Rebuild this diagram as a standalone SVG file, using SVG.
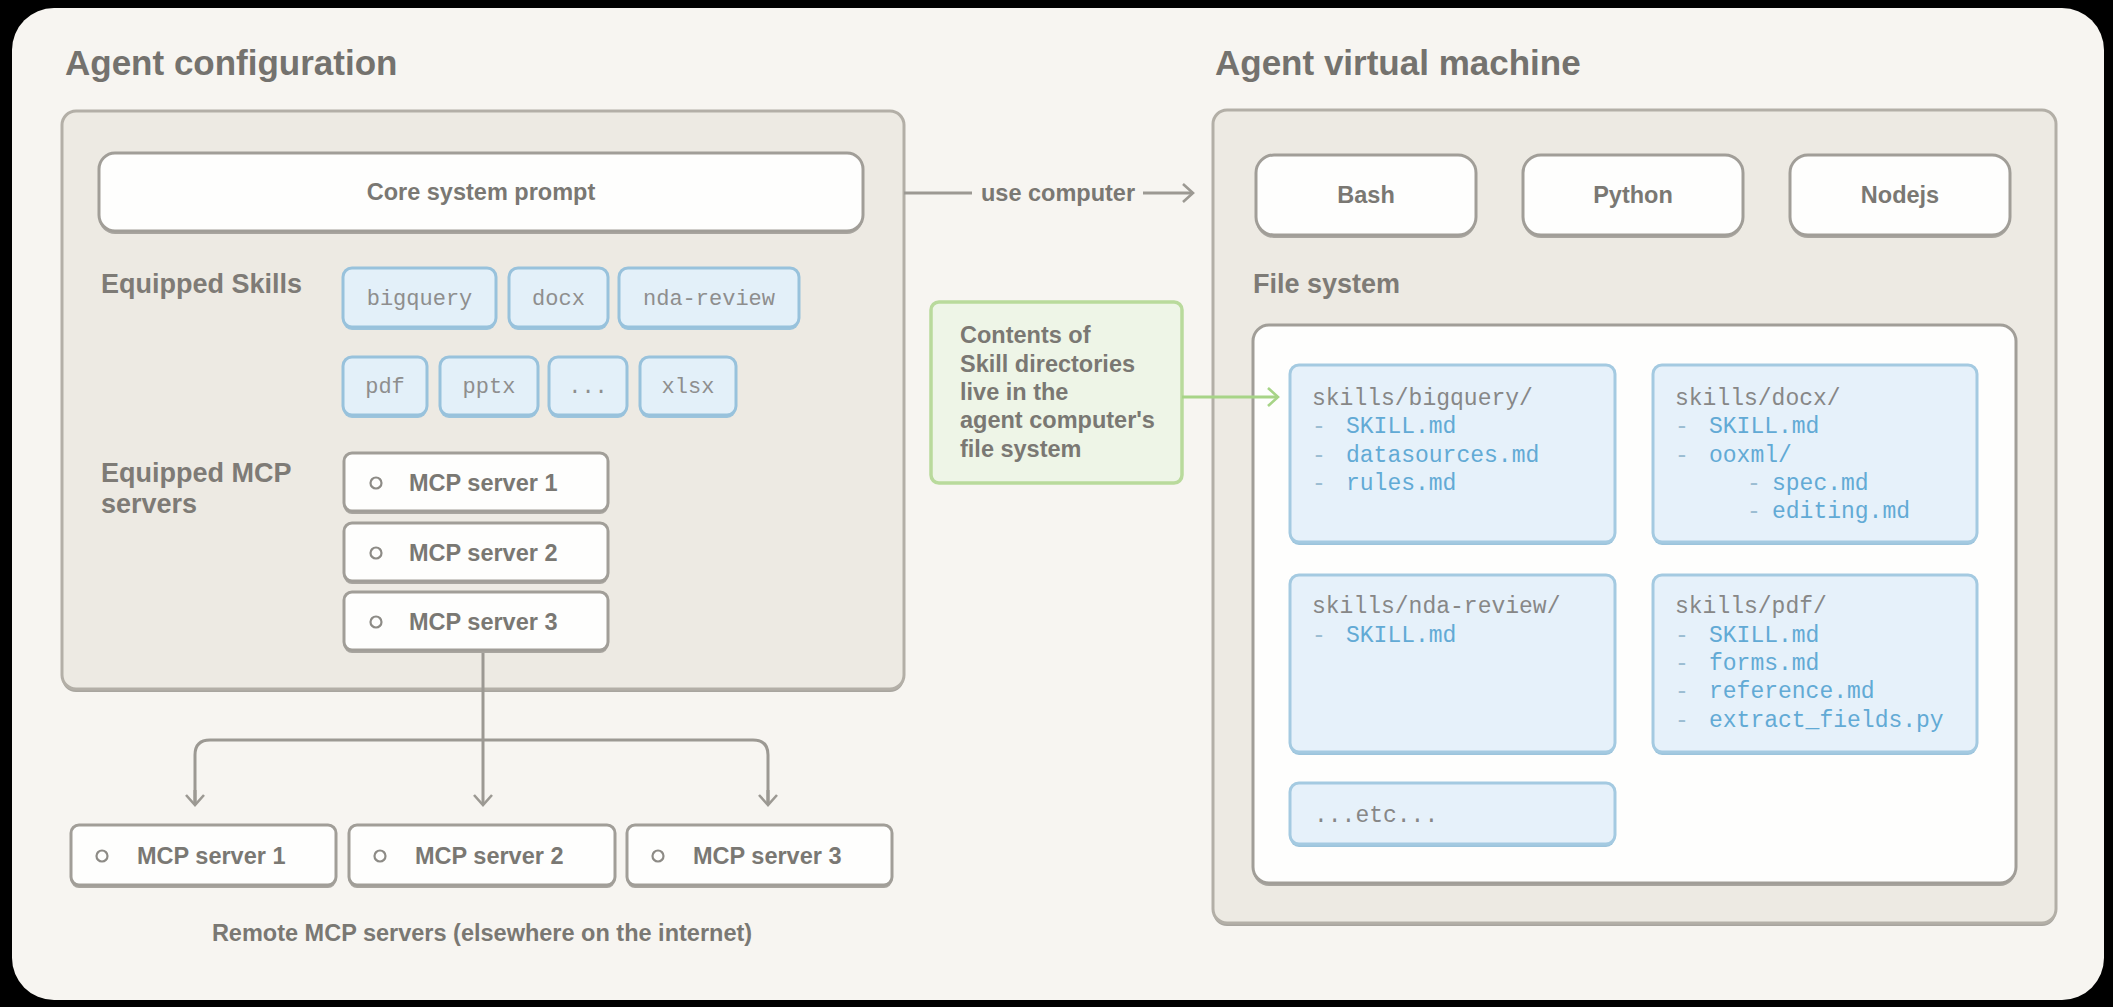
<svg xmlns="http://www.w3.org/2000/svg" width="2113" height="1007" viewBox="0 0 2113 1007">
<defs>
<style>
.h{font-family:"Liberation Sans",Arial,sans-serif;font-weight:bold;font-size:35px;fill:#74726e}
.lab{font-family:"Liberation Sans",Arial,sans-serif;font-weight:bold;font-size:27px;fill:#7e7b76}
.t{font-family:"Liberation Sans",Arial,sans-serif;font-weight:bold;font-size:23.5px;fill:#7a7873}
.tc{font-family:"Liberation Sans",Arial,sans-serif;font-weight:bold;font-size:23.5px;fill:#7a7873;text-anchor:middle}
.m{font-family:"Liberation Mono","DejaVu Sans Mono",monospace;font-size:23px;fill:#878787}
.mc{font-family:"Liberation Mono","DejaVu Sans Mono",monospace;font-size:22px;fill:#8e8e8e;text-anchor:middle}
.f{fill:#62aad5}
.d{fill:#9bbdd2}
.cont{fill:#edeae3;stroke:#b3afa7;stroke-width:3}
.wb{fill:#fefefd;stroke:#a19e98;stroke-width:3}
.sh{fill:#a8a59f}
.chip{fill:#e3f0f9;stroke:#98c2dc;stroke-width:3}
.chsh{fill:#9cc4dc}
.dir{fill:#e6f1fa;stroke:#a4cae1;stroke-width:3}
.dot{fill:none;stroke:#8d8b86;stroke-width:2.2}
.con{fill:none;stroke:#9c9993;stroke-width:3}
.gcon{fill:none;stroke:#a7d487;stroke-width:3}
</style>
<marker id="arr" viewBox="0 0 14 22" refX="12" refY="11" markerWidth="14" markerHeight="22" markerUnits="userSpaceOnUse" orient="auto">
<path d="M2,2 L12,11 L2,20" fill="none" stroke="#9c9993" stroke-width="2.6"/>
</marker>
<marker id="garr" viewBox="0 0 14 22" refX="12" refY="11" markerWidth="14" markerHeight="22" markerUnits="userSpaceOnUse" orient="auto">
<path d="M2,2 L12,11 L2,20" fill="none" stroke="#a7d487" stroke-width="2.6"/>
</marker>
</defs>

<rect x="0" y="0" width="2113" height="1007" fill="#000"/>
<rect id="panel" x="12" y="8" width="2092" height="992" rx="42" fill="#f7f5f1"/>

<text class="h" x="65" y="75">Agent configuration</text>
<text class="h" x="1215" y="75">Agent virtual machine</text>

<g id="agent-config">
<rect x="62" y="114" width="842" height="578" rx="14" class="sh"/>
<rect x="62" y="111" width="842" height="578" rx="14" class="cont"/>
</g>

<g id="core-prompt">
<rect x="99" y="156" width="764" height="78" rx="16" class="sh"/>
<rect x="99" y="153" width="764" height="78" rx="16" class="wb"/>
<text class="tc" x="481" y="200">Core system prompt</text>
</g>

<text class="lab" x="101" y="293">Equipped Skills</text>

<g id="chip-bigquery"><rect x="343" y="271" width="153" height="59" rx="9" class="chsh"/><rect x="343" y="268" width="153" height="59" rx="9" class="chip"/><text class="mc" x="419.5" y="305">bigquery</text></g>
<g id="chip-docx"><rect x="509" y="271" width="99" height="59" rx="9" class="chsh"/><rect x="509" y="268" width="99" height="59" rx="9" class="chip"/><text class="mc" x="558.5" y="305">docx</text></g>
<g id="chip-nda-review"><rect x="619" y="271" width="180" height="59" rx="9" class="chsh"/><rect x="619" y="268" width="180" height="59" rx="9" class="chip"/><text class="mc" x="709" y="305">nda-review</text></g>
<g id="chip-pdf"><rect x="343" y="360" width="84" height="58" rx="9" class="chsh"/><rect x="343" y="357" width="84" height="58" rx="9" class="chip"/><text class="mc" x="385" y="393">pdf</text></g>
<g id="chip-pptx"><rect x="440" y="360" width="98" height="58" rx="9" class="chsh"/><rect x="440" y="357" width="98" height="58" rx="9" class="chip"/><text class="mc" x="489" y="393">pptx</text></g>
<g id="chip-more"><rect x="549" y="360" width="78" height="58" rx="9" class="chsh"/><rect x="549" y="357" width="78" height="58" rx="9" class="chip"/><text class="mc" x="588" y="393">...</text></g>
<g id="chip-xlsx"><rect x="640" y="360" width="96" height="58" rx="9" class="chsh"/><rect x="640" y="357" width="96" height="58" rx="9" class="chip"/><text class="mc" x="688" y="393">xlsx</text></g>

<text class="lab" x="101" y="482">Equipped MCP</text>
<text class="lab" x="101" y="513">servers</text>

<g id="mcp-eq-1"><rect x="344" y="456" width="264" height="58" rx="8" class="sh"/><rect x="344" y="453" width="264" height="58" rx="8" class="wb"/><circle cx="376" cy="483" r="5.5" class="dot"/><text class="t" x="409" y="491">MCP server 1</text></g>
<g id="mcp-eq-2"><rect x="344" y="526" width="264" height="58" rx="8" class="sh"/><rect x="344" y="523" width="264" height="58" rx="8" class="wb"/><circle cx="376" cy="553" r="5.5" class="dot"/><text class="t" x="409" y="561">MCP server 2</text></g>
<g id="mcp-eq-3"><rect x="344" y="595" width="264" height="58" rx="8" class="sh"/><rect x="344" y="592" width="264" height="58" rx="8" class="wb"/><circle cx="376" cy="622" r="5.5" class="dot"/><text class="t" x="409" y="630">MCP server 3</text></g>

<g id="mcp-remote-1"><rect x="71" y="828" width="265" height="60" rx="8" class="sh"/><rect x="71" y="825" width="265" height="60" rx="8" class="wb"/><circle cx="102" cy="856" r="5.5" class="dot"/><text class="t" x="137" y="864">MCP server 1</text></g>
<g id="mcp-remote-2"><rect x="349" y="828" width="266" height="60" rx="8" class="sh"/><rect x="349" y="825" width="266" height="60" rx="8" class="wb"/><circle cx="380" cy="856" r="5.5" class="dot"/><text class="t" x="415" y="864">MCP server 2</text></g>
<g id="mcp-remote-3"><rect x="627" y="828" width="265" height="60" rx="8" class="sh"/><rect x="627" y="825" width="265" height="60" rx="8" class="wb"/><circle cx="658" cy="856" r="5.5" class="dot"/><text class="t" x="693" y="864">MCP server 3</text></g>

<text class="tc" x="482" y="941">Remote MCP servers (elsewhere on the internet)</text>

<g id="vm">
<rect x="1213" y="113" width="843" height="813" rx="14" class="sh"/>
<rect x="1213" y="110" width="843" height="813" rx="14" class="cont"/>
</g>

<g id="bash"><rect x="1256" y="158" width="220" height="80" rx="18" class="sh"/><rect x="1256" y="155" width="220" height="80" rx="18" class="wb"/><text class="tc" x="1366" y="203">Bash</text></g>
<g id="python"><rect x="1523" y="158" width="220" height="80" rx="18" class="sh"/><rect x="1523" y="155" width="220" height="80" rx="18" class="wb"/><text class="tc" x="1633" y="203">Python</text></g>
<g id="nodejs"><rect x="1790" y="158" width="220" height="80" rx="18" class="sh"/><rect x="1790" y="155" width="220" height="80" rx="18" class="wb"/><text class="tc" x="1900" y="203">Nodejs</text></g>

<text class="lab" x="1253" y="293">File system</text>

<g id="file-system">
<rect x="1253" y="328" width="763" height="558" rx="16" class="sh"/>
<rect x="1253" y="325" width="763" height="558" rx="16" class="wb"/>
</g>

<g id="dir-bigquery">
<rect x="1290" y="368" width="325" height="177" rx="9" class="chsh"/>
<rect x="1290" y="365" width="325" height="177" rx="9" class="dir"/>
<text class="m" x="1312" y="405">skills/bigquery/</text>
<text class="m" y="433"><tspan class="d" x="1312">-</tspan><tspan class="f" x="1346">SKILL.md</tspan></text>
<text class="m" y="462"><tspan class="d" x="1312">-</tspan><tspan class="f" x="1346">datasources.md</tspan></text>
<text class="m" y="490"><tspan class="d" x="1312">-</tspan><tspan class="f" x="1346">rules.md</tspan></text>
</g>

<g id="dir-docx">
<rect x="1653" y="368" width="324" height="177" rx="9" class="chsh"/>
<rect x="1653" y="365" width="324" height="177" rx="9" class="dir"/>
<text class="m" x="1675" y="405">skills/docx/</text>
<text class="m" y="433"><tspan class="d" x="1675">-</tspan><tspan class="f" x="1709">SKILL.md</tspan></text>
<text class="m" y="462"><tspan class="d" x="1675">-</tspan><tspan class="f" x="1709">ooxml/</tspan></text>
<text class="m" y="490"><tspan class="d" x="1747">-</tspan><tspan class="f" x="1772">spec.md</tspan></text>
<text class="m" y="518"><tspan class="d" x="1747">-</tspan><tspan class="f" x="1772">editing.md</tspan></text>
</g>

<g id="dir-nda-review">
<rect x="1290" y="578" width="325" height="177" rx="9" class="chsh"/>
<rect x="1290" y="575" width="325" height="177" rx="9" class="dir"/>
<text class="m" x="1312" y="613">skills/nda-review/</text>
<text class="m" y="642"><tspan class="d" x="1312">-</tspan><tspan class="f" x="1346">SKILL.md</tspan></text>
</g>

<g id="dir-pdf">
<rect x="1653" y="578" width="324" height="177" rx="9" class="chsh"/>
<rect x="1653" y="575" width="324" height="177" rx="9" class="dir"/>
<text class="m" x="1675" y="613">skills/pdf/</text>
<text class="m" y="642"><tspan class="d" x="1675">-</tspan><tspan class="f" x="1709">SKILL.md</tspan></text>
<text class="m" y="670"><tspan class="d" x="1675">-</tspan><tspan class="f" x="1709">forms.md</tspan></text>
<text class="m" y="698"><tspan class="d" x="1675">-</tspan><tspan class="f" x="1709">reference.md</tspan></text>
<text class="m" y="727"><tspan class="d" x="1675">-</tspan><tspan class="f" x="1709">extract_fields.py</tspan></text>
</g>

<g id="dir-etc">
<rect x="1290" y="786" width="325" height="61" rx="9" class="chsh"/>
<rect x="1290" y="783" width="325" height="61" rx="9" class="dir"/>
<text class="m" x="1314" y="822">...etc...</text>
</g>

<g id="note">
<rect x="931" y="302" width="251" height="181" rx="8" fill="#eef5e7" stroke="#b9da9c" stroke-width="3.5"/>
<text class="t" x="960" y="343">Contents of</text>
<text class="t" x="960" y="372">Skill directories</text>
<text class="t" x="960" y="400">live in the</text>
<text class="t" x="960" y="428">agent computer's</text>
<text class="t" x="960" y="457">file system</text>
</g>

<g id="connectors">
<line x1="904" y1="193" x2="972" y2="193" class="con"/>
<text class="tc" x="1058" y="201">use computer</text>
<line x1="1143" y1="193" x2="1193" y2="193" class="con" marker-end="url(#arr)"/>
<line x1="1182" y1="397" x2="1278" y2="397" class="gcon" marker-end="url(#garr)"/>
<path d="M483,653 V805" class="con" marker-end="url(#arr)"/>
<path d="M195,805 V755 Q195,740 210,740 H753 Q768,740 768,755 V805" class="con"/>
<path d="M195,790 V805" class="con" marker-end="url(#arr)"/>
<path d="M768,790 V805" class="con" marker-end="url(#arr)"/>
</g>
</svg>
